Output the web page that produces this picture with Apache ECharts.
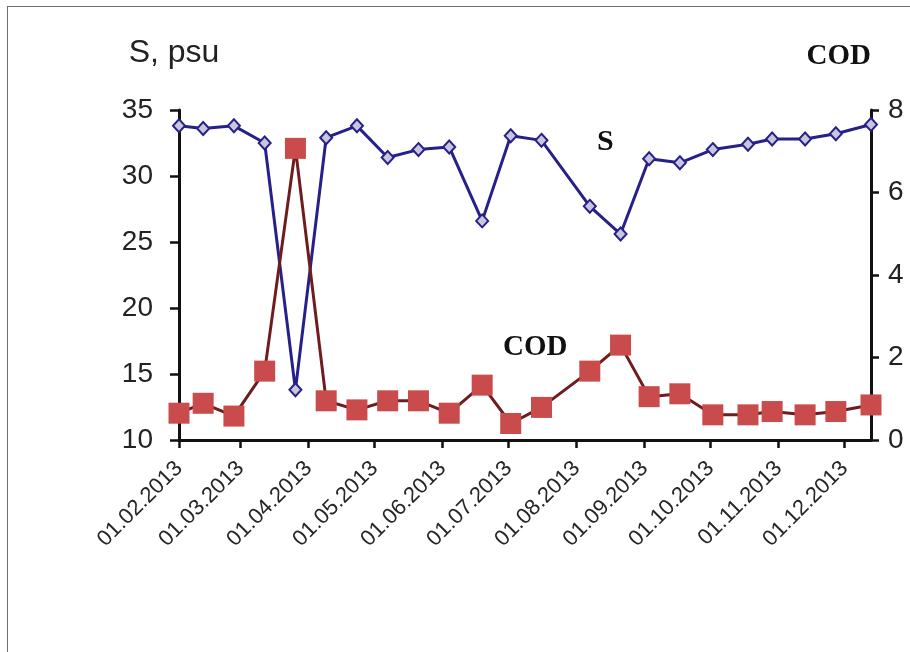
<!DOCTYPE html>
<html>
<head>
<meta charset="utf-8">
<script src="https://cdn.jsdelivr.net/npm/echarts@6/dist/echarts.min.js"></script>
<style>
  html, body { margin: 0; padding: 0; background: #fff; }
  #frame { position: absolute; left: 7px; top: 6px; right: 0; bottom: 0; border-left: 1.5px solid #707070; border-top: 1.5px solid #707070; }
  #chart { position: absolute; left: 0; top: 0; width: 910px; height: 652px; }
</style>
</head>
<body>
<div id="frame"></div>
<div id="chart"></div>
<script>
// sampling dates (dd.mm.yyyy)
const dates = ['01.02.2013', '12.02.2013', '26.02.2013', '12.03.2013', '26.03.2013', '09.04.2013',
  '23.04.2013', '07.05.2013', '21.05.2013', '04.06.2013', '19.06.2013', '02.07.2013',
  '16.07.2013', '07.08.2013', '21.08.2013', '03.09.2013', '17.09.2013', '02.10.2013',
  '18.10.2013', '29.10.2013', '13.11.2013', '27.11.2013', '13.12.2013'];

// salinity, psu
const salinity = [33.8, 33.6, 33.8, 32.5, 13.8, 32.9, 33.8, 31.4, 32.0, 32.2, 26.6, 33.05,
  32.7, 27.7, 25.6, 31.3, 31.0, 32.0, 32.4, 32.8, 32.8, 33.2, 33.9];

// COD
const cod = [0.65, 0.89, 0.58, 1.67, 7.07, 0.95, 0.73, 0.95, 0.95, 0.65, 1.33, 0.40,
  0.79, 1.67, 2.30, 1.05, 1.12, 0.61, 0.61, 0.69, 0.61, 0.69, 0.85];

const tickLabels = ['01.02.2013', '01.03.2013', '01.04.2013', '01.05.2013', '01.06.2013', '01.07.2013',
  '01.08.2013', '01.09.2013', '01.10.2013', '01.11.2013', '01.12.2013'];

// days since 01.01.2013 (UTC, so no timezone drift)
function toDay(s) {
  const p = s.split('.');
  return (Date.UTC(+p[2], +p[1] - 1, +p[0]) - Date.UTC(2013, 0, 1)) / 86400000;
}

const days = dates.map(toDay);
const tickDays = tickLabels.map(toDay);

const sans = 'Liberation Sans, Arial, sans-serif';
const serif = 'Liberation Serif, Times New Roman, serif';

const chart = echarts.init(document.getElementById('chart'));
chart.setOption({
  animation: false,
  grid: { left: 179, right: 39, top: 110, bottom: 212 },
  xAxis: {
    type: 'value',
    min: days[0],
    max: days[days.length - 1],
    axisLine: { lineStyle: { color: '#111', width: 3 } },
    axisTick: { show: true, customValues: tickDays, length: 8, lineStyle: { color: '#111', width: 2.5 } },
    axisLabel: {
      customValues: tickDays,
      rotate: 45,
      margin: 25,
      color: '#262626',
      fontFamily: sans,
      fontSize: 22,
      formatter: v => tickLabels[tickDays.indexOf(v)] || ''
    },
    splitLine: { show: false }
  },
  yAxis: [{
    type: 'value',
    min: 10,
    max: 35,
    interval: 5,
    name: 'S, psu',
    nameLocation: 'end',
    nameGap: 57,
    nameTextStyle: { color: '#222', fontSize: 32, fontFamily: sans, align: 'center', verticalAlign: 'middle', padding: [0, 10, 0, 0] },
    axisLine: { show: true, lineStyle: { color: '#111', width: 3 } },
    axisTick: { show: true, length: 9, lineStyle: { color: '#111', width: 2.5 } },
    axisLabel: { margin: 26, color: '#222', fontSize: 28, fontFamily: sans },
    splitLine: { show: false }
  }, {
    type: 'value',
    position: 'right',
    min: 0,
    max: 8,
    interval: 2,
    name: 'COD',
    nameLocation: 'end',
    nameGap: 53,
    nameTextStyle: { color: '#111', fontSize: 29, fontWeight: 'bold', fontFamily: serif, align: 'right', verticalAlign: 'middle' },
    axisLine: { show: true, lineStyle: { color: '#111', width: 3 } },
    axisTick: { show: true, length: 8, lineStyle: { color: '#111', width: 2.5 } },
    axisLabel: { margin: 17, color: '#222', fontSize: 28, fontFamily: sans },
    splitLine: { show: false }
  }],
  series: [{
    name: 'S',
    type: 'line',
    yAxisIndex: 0,
    data: days.map((d, i) => [d, salinity[i]]),
    symbol: 'diamond',
    symbolSize: [12, 13],
    lineStyle: { color: '#27208a', width: 3 },
    itemStyle: { color: '#c8c6da', borderColor: '#27208a', borderWidth: 2 },
    z: 2
  }, {
    name: 'COD',
    type: 'line',
    yAxisIndex: 1,
    data: days.map((d, i) => [d, cod[i]]),
    symbol: 'rect',
    symbolSize: 21,
    lineStyle: { color: '#6e1c1e', width: 3 },
    itemStyle: { color: '#c94b4b' },
    z: 3
  }],
  graphic: [{
    type: 'text',
    left: 597,
    top: 127,
    style: { text: 'S', fontSize: 30, fontWeight: 'bold', fontFamily: serif, fill: '#111' }
  }, {
    type: 'text',
    left: 503,
    top: 333,
    style: { text: 'COD', fontSize: 29, fontWeight: 'bold', fontFamily: serif, fill: '#111' }
  }]
});
</script>
</body>
</html>
